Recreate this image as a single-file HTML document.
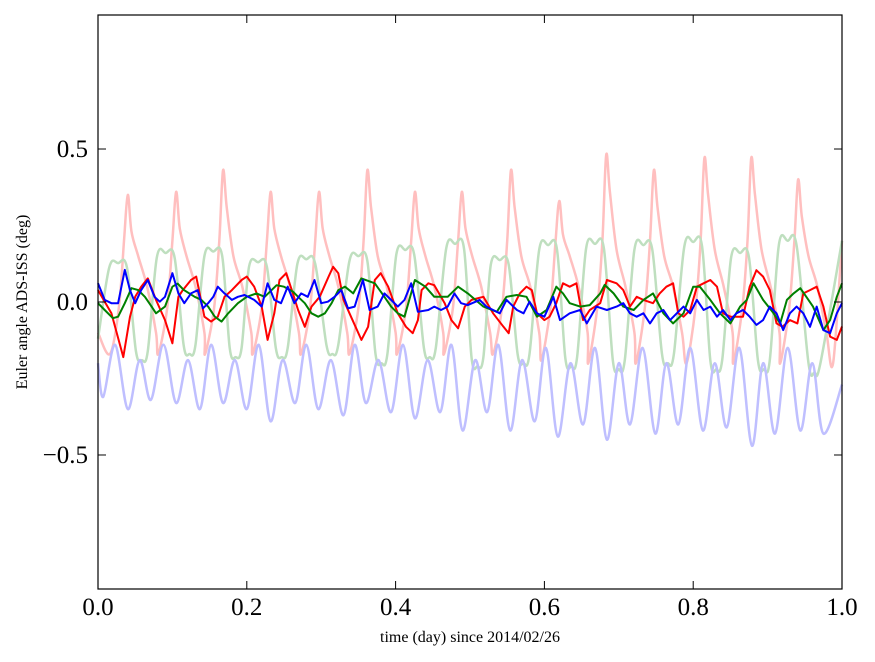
<!DOCTYPE html>
<html><head><meta charset="utf-8"><style>
html,body{margin:0;padding:0;background:#fff;}
svg{display:block;font-family:"Liberation Serif",serif;}
</style></head><body>
<svg id="chart" width="875" height="662" xmlns="http://www.w3.org/2000/svg">
<rect x="0" y="0" width="875" height="662" fill="#fff"/>
<g id="series"></g>
<rect x="98" y="15" width="744" height="574" fill="none" stroke="#000" stroke-width="1.2"/>
<g id="axes"></g>
<text x="470" y="642" text-anchor="middle" font-size="16">time (day) since 2014/02/26</text>
<text transform="translate(27,302) rotate(-90)" text-anchor="middle" font-size="16">Euler angle ADS-ISS (deg)</text>
</svg>
<script>
const xTicks=[0,0.2,0.4,0.6,0.8,1.0];
const xTickLabels=["0.0","0.2","0.4","0.6","0.8","1.0"];
const yTicks=[-0.5,0,0.5];
const yTickLabels=["\u22120.5","0.0","0.5"];

// faded red
const tFR=[0,
.016,.028,.035,.040,.045,.054,.066,.078,
.081,.093,.100,.105,.110,.119,.131,.143,
.144,.156,.163,.168,.173,.182,.194,.206,
.208,.220,.227,.232,.237,.246,.258,.270,
.273,.285,.292,.297,.302,.311,.323,.335,
.338,.350,.357,.362,.367,.376,.388,.400,
.402,.414,.421,.426,.431,.440,.452,.464,
.465,.477,.484,.489,.494,.503,.515,.527,
.531,.543,.550,.555,.560,.569,.581,.593,
.596,.608,.615,.620,.625,.634,.646,.658,
.659,.671,.678,.683,.688,.697,.709,.721,
.723,.735,.742,.747,.752,.761,.773,.785,
.791,.803,.810,.815,.820,.829,.841,.853,
.854,.866,.873,.878,.883,.892,.904,.916,
.917,.929,.936,.941,.946,.955,.967,.979,
.988,1.0];
const vFR=[-.1,
-.17,-.02,.2,.35,.23,.15,.05,-.1,
-.17,-.02,.2,.36,.24,.15,.05,-.1,
-.17,-.02,.2,.43,.31,.15,.05,-.1,
-.17,-.02,.2,.36,.24,.15,.05,-.1,
-.17,-.02,.2,.36,.24,.15,.05,-.1,
-.17,-.02,.2,.43,.31,.15,.05,-.1,
-.17,-.02,.2,.36,.24,.15,.05,-.1,
-.17,-.02,.2,.36,.24,.15,.05,-.1,
-.17,-.02,.2,.43,.31,.15,.05,-.1,
-.19,-.02,.2,.33,.22,.15,.05,-.1,
-.2,-.02,.2,.48,.36,.17,.05,-.1,
-.2,-.02,.2,.43,.31,.15,.05,-.1,
-.2,-.02,.2,.47,.35,.17,.05,-.1,
-.2,-.02,.2,.47,.35,.17,.05,-.1,
-.2,-.02,.2,.40,.28,.15,.05,-.1,
-.2,.2];
// faded green
const tFG=[0,
.015,.027,.039, .051,.059,.067,
.079,.091,.103, .115,.123,.131,
.143,.155,.167, .177,.185,.193,
.203,.215,.227, .239,.247,.255,
.268,.280,.292, .307,.315,.323,
.338,.350,.362, .373,.381,.389,
.401,.413,.425, .438,.446,.454,
.468,.480,.492, .502,.510,.518,
.528,.540,.552, .564,.572,.580,
.593,.605,.617, .628,.636,.644,
.656,.668,.680, .692,.700,.708,
.721,.733,.745, .758,.766,.774,
.788,.800,.812, .823,.831,.839,
.851,.863,.875, .887,.895,.903,
.915,.927,.939, .955,.963,.971,
1.0];
const vFG=[-.12,
.112,.127,.112, -.16,-.19,-.16,
.145,.16,.145, -.14,-.17,-.14,
.15,.165,.15, -.15,-.18,-.15,
.115,.13,.115, -.15,-.18,-.15,
.125,.14,.125, -.14,-.17,-.14,
.135,.15,.135, -.17,-.2,-.17,
.155,.17,.155, -.15,-.18,-.15,
.175,.19,.175, -.18,-.21,-.18,
.122,.137,.122, -.17,-.2,-.17,
.171,.186,.171, -.18,-.21,-.18,
.175,.19,.175, -.19,-.22,-.19,
.171,.186,.171, -.17,-.2,-.17,
.181,.196,.181, -.19,-.22,-.19,
.145,.16,.145, -.19,-.22,-.19,
.185,.2,.185, -.2,-.23,-.2,
.2];
// faded blue
const tFB=[0,.007,.023,.040,.056,.071,.088,.105,.121,.137,.152,.168,.184,.200,.216,.232,.248,.265,.280,.296,.313,.330,.345,.360,.377,.394,.410,.426,.443,.460,.475,.490,.507,.523,.538,.554,.570,.587,.602,.618,.635,.652,.668,.684,.700,.715,.732,.749,.764,.780,.796,.813,.829,.845,.862,.879,.894,.910,.927,.944,.960,.975,1.0];
const vFB=[-.2,-.31,-.14,-.35,-.19,-.32,-.14,-.33,-.19,-.35,-.14,-.33,-.19,-.35,-.14,-.39,-.19,-.33,-.14,-.35,-.19,-.37,-.14,-.33,-.19,-.36,-.14,-.38,-.19,-.36,-.14,-.42,-.19,-.36,-.14,-.42,-.19,-.39,-.15,-.44,-.2,-.40,-.15,-.45,-.2,-.40,-.15,-.43,-.2,-.40,-.15,-.42,-.2,-.41,-.15,-.47,-.2,-.43,-.15,-.42,-.2,-.43,-.27];
// solid red
const tR=[0,.018,.034,.043,.05,.058,.067,.078,.09,.1,.108,.114,.125,.132,.143,.152,.161,.17,.18,.193,.2,.21,.22,.228,.237,.244,.253,.262,.269,.278,.287,.298,.31,.316,.323,.33,.34,.354,.363,.372,.38,.39,.403,.414,.423,.43,.435,.444,.452,.466,.475,.484,.493,.502,.518,.531,.545,.552,.558,.567,.576,.583,.59,.6,.607,.616,.625,.634,.643,.652,.661,.675,.684,.697,.706,.715,.724,.733,.746,.755,.764,.773,.78,.787,.796,.805,.814,.823,.832,.84,.85,.858,.867,.876,.885,.894,.903,.912,.92,.93,.94,.948,.957,.966,.975,.984,.993,1.0];
const vR=[.039,-.037,-.18,-.048,.017,.05,.077,.007,-.059,-.135,.017,.039,.072,.083,-.048,-.064,-.048,.017,.039,.072,.083,.05,-.015,-.124,-.037,.072,.094,.028,-.026,-.081,-.015,.017,.083,.115,.094,.007,-.048,-.124,-.081,.072,.094,.05,-.037,-.081,-.102,-.059,.039,.061,.055,-.004,-.059,-.086,-.015,.007,.017,-.037,-.081,-.102,-.015,.028,.05,.039,-.037,-.059,-.048,-.004,.061,.05,.061,-.059,-.026,-.004,.072,.061,.039,-.015,.017,.007,-.004,.028,.05,.061,-.037,-.048,-.026,.05,.061,.072,.05,-.037,-.048,-.048,-.048,.05,.104,.083,.039,-.07,-.081,-.059,-.07,.028,.039,.05,-.015,-.113,-.124,-.08];
// solid green
const tG=[0,.009,.02,.027,.036,.045,.054,.063,.072,.078,.09,.1,.107,.115,.13,.139,.148,.157,.166,.175,.188,.2,.213,.224,.24,.25,.262,.269,.278,.287,.296,.305,.314,.323,.332,.343,.354,.372,.385,.394,.403,.412,.426,.44,.452,.47,.484,.497,.518,.536,.549,.563,.576,.59,.603,.616,.625,.634,.648,.661,.675,.681,.693,.706,.72,.733,.746,.76,.773,.787,.8,.809,.823,.836,.85,.863,.872,.881,.894,.908,.917,.926,.935,.944,.952,.961,.975,.984,.993,1.0];
const vG=[-.004,-.026,-.053,-.048,-.004,.045,.039,.017,-.015,-.037,-.015,.05,.06,.04,.017,.007,-.015,-.048,-.064,-.037,-.004,.017,.028,.017,.055,.05,.034,.017,-.004,-.037,-.048,-.037,-.004,.039,.05,.028,.077,.061,.017,-.015,-.037,-.048,.072,.05,.017,.017,.05,.028,-.015,-.032,.017,.023,.017,-.048,-.026,.05,.028,-.004,-.015,-.01,.028,.056,.028,-.015,-.026,.007,.028,-.037,-.07,-.037,.05,.05,.007,-.037,-.07,-.015,.007,.061,.007,-.037,-.07,.007,.028,.045,.017,-.015,-.092,-.059,.017,.061];
// solid blue
const tB=[0,.009,.018,.027,.036,.043,.05,.058,.067,.076,.083,.09,.1,.108,.116,.125,.134,.141,.148,.155,.161,.17,.18,.188,.197,.21,.22,.228,.237,.246,.255,.264,.273,.282,.291,.3,.309,.318,.327,.336,.345,.356,.365,.376,.385,.394,.403,.412,.421,.43,.444,.452,.461,.47,.479,.488,.497,.513,.522,.531,.54,.549,.563,.572,.58,.59,.6,.612,.621,.634,.648,.657,.67,.684,.697,.706,.715,.724,.733,.742,.751,.76,.769,.778,.787,.796,.805,.814,.823,.832,.84,.85,.858,.867,.876,.885,.894,.903,.912,.921,.93,.939,.948,.957,.966,.975,.984,.993,1.0];
const vB=[.061,.007,-.004,-.004,.105,.039,-.004,.039,.072,.017,.001,.017,.094,.028,-.004,.028,.039,-.021,-.004,.017,.05,.028,.007,.017,.023,.007,-.015,.061,.007,-.004,.05,-.004,.028,.017,.072,-.004,.001,.017,.039,-.021,-.015,.072,-.026,-.015,.028,.007,-.015,.007,.061,-.032,-.026,-.015,-.026,-.015,.028,-.004,-.01,.007,-.015,-.026,-.037,.007,-.026,-.037,.001,-.037,-.048,.017,-.059,-.037,-.026,-.07,-.015,-.026,-.015,-.004,-.037,-.048,-.037,-.07,-.037,-.026,-.059,-.037,-.015,-.037,.007,-.026,-.015,-.048,-.026,-.059,-.037,-.026,-.048,-.075,-.059,-.015,-.037,-.092,-.037,-.015,-.037,-.081,-.015,-.092,-.102,-.037,-.004];

const X0=98,X1=842,Y0=589,Y1=15,YMIN=-0.938,YMAX=0.938;
function xs(t){return X0+(t-0)/(1-0)*(X1-X0);}
function ys(v){return Y0-(v-YMIN)/(YMAX-YMIN)*(Y0-Y1);}
const NS="http://www.w3.org/2000/svg";
const sg=document.getElementById('series');
const ax=document.getElementById('axes');

function smoothPath(ts,vs){
  const p=ts.map((t,i)=>[xs(t),ys(vs[i])]);
  let d="M"+p[0][0].toFixed(1)+","+p[0][1].toFixed(1);
  for(let i=0;i<p.length-1;i++){
    const a=p[Math.max(i-1,0)],b=p[i],c=p[i+1],e=p[Math.min(i+2,p.length-1)];
    const c1=[b[0]+(c[0]-a[0])/6,b[1]+(c[1]-a[1])/6];
    const c2=[c[0]-(e[0]-b[0])/6,c[1]-(e[1]-b[1])/6];
    d+="C"+c1[0].toFixed(1)+","+c1[1].toFixed(1)+" "+c2[0].toFixed(1)+","+c2[1].toFixed(1)+" "+c[0].toFixed(1)+","+c[1].toFixed(1);
  }
  return d;
}
function linePath(ts,vs){
  return ts.map((t,i)=>(i?"L":"M")+xs(t).toFixed(1)+","+ys(vs[i]).toFixed(1)).join("");
}
function addPath(d,color,w,name){
  const el=document.createElementNS(NS,'path');
  el.setAttribute('d',d);el.setAttribute('fill','none');el.setAttribute('stroke',color);
  el.setAttribute('stroke-width',w);el.setAttribute('stroke-linejoin','round');
  
  
  sg.appendChild(el);
}
addPath(smoothPath(tFR,vFR),'#ffbfbf',2.5,'faded-red-series');
addPath(smoothPath(tFG,vFG),'#bfdfbf',2.5,'faded-green-series');
addPath(smoothPath(tFB,vFB),'#bfbfff',2.5,'faded-blue-series');
addPath(linePath(tR,vR),'#ff0000',2,'red-series');
addPath(linePath(tG,vG),'#008000',2,'green-series');
addPath(linePath(tB,vB),'#0000ff',2,'blue-series');

function mk(tag,attrs){const el=document.createElementNS(NS,tag);for(const k in attrs)el.setAttribute(k,attrs[k]);ax.appendChild(el);return el;}
xTicks.forEach((t,i)=>{
  const x=xs(t);
  const a=mk('line',{x1:x,x2:x,y1:Y0,y2:Y0-8,stroke:'#000'});
  
  
  const b=mk('line',{x1:x,x2:x,y1:Y1,y2:Y1+8,stroke:'#000'});
  
  
  const tx=mk('text',{x:x,y:615,'text-anchor':'middle','font-size':25});
  tx.textContent=xTickLabels[i];
  
  
});
yTicks.forEach((v,i)=>{
  const y=ys(v);
  const a=mk('line',{x1:X0,x2:X0+8,y1:y,y2:y,stroke:'#000'});
  
  
  const b=mk('line',{x1:X1,x2:X1-8,y1:y,y2:y,stroke:'#000'});
  
  
  const tx=mk('text',{x:88,y:y+8,'text-anchor':'end','font-size':25});
  tx.textContent=yTickLabels[i];
  
  
});
</script>
</body></html>
